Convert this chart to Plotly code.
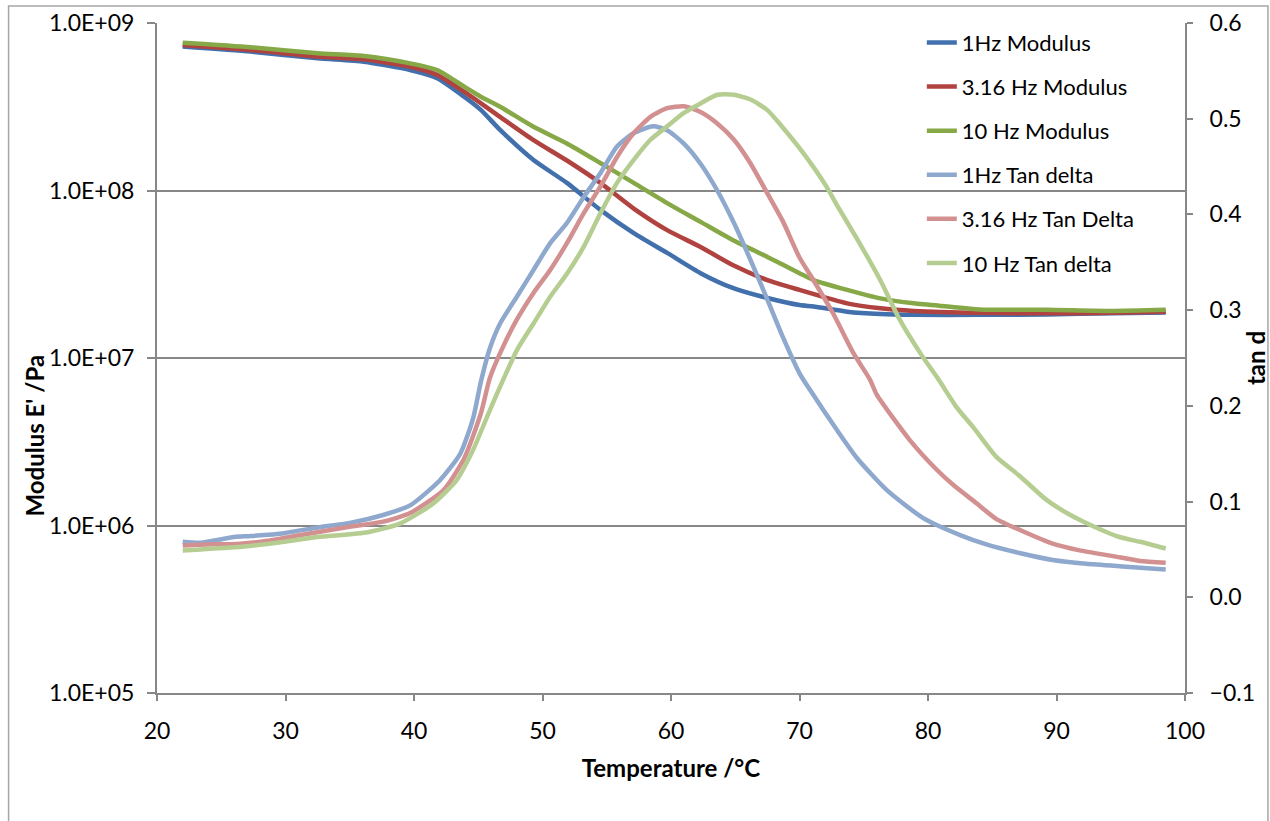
import plotly.graph_objects as go

# ---- Storage modulus E' (Pa) vs temperature (°C) ----
temp_mod_1hz = [22.0, 27.3, 32.5, 36.1, 39.7, 41.8, 43.9, 45.2, 46.7, 49.3, 51.9, 54.5, 57.1,
                59.7, 62.3, 64.8, 67.5, 70.0, 71.1, 73.7, 76.3, 78.9, 84.0, 89.2, 94.4, 98.5]
mod_1hz = [7.23e8, 6.75e8, 6.15e8, 5.87e8, 5.24e8, 4.68e8, 3.63e8, 3.03e8, 2.30e8, 1.52e8,
           1.11e8, 7.66e7, 5.57e7, 4.24e7, 3.21e7, 2.62e7, 2.28e7, 2.07e7, 2.03e7, 1.89e7,
           1.83e7, 1.81e7, 1.81e7, 1.82e7, 1.85e7, 1.87e7]

temp_mod_316hz = [22.0, 27.3, 32.5, 36.1, 39.7, 41.8, 43.9, 46.7, 49.3, 51.9, 54.5, 57.1, 59.7,
                  62.3, 64.8, 67.5, 70.0, 73.7, 76.3, 78.9, 84.0, 89.2, 94.4, 98.5]
mod_316hz = [7.40e8, 6.90e8, 6.30e8, 6.07e8, 5.48e8, 4.90e8, 3.89e8, 2.75e8, 2.00e8, 1.51e8,
             1.11e8, 7.80e7, 5.80e7, 4.60e7, 3.59e7, 2.92e7, 2.55e7, 2.12e7, 1.98e7, 1.91e7,
             1.86e7, 1.85e7, 1.86e7, 1.89e7]

temp_mod_10hz = [22.0, 27.3, 32.5, 36.1, 39.7, 41.8, 43.9, 45.2, 46.7, 49.3, 51.9, 54.5, 57.1,
                 59.7, 62.3, 64.8, 67.5, 70.0, 71.1, 73.7, 76.3, 78.9, 81.5, 84.0, 89.2, 94.4, 98.5]
mod_10hz = [7.62e8, 7.16e8, 6.59e8, 6.35e8, 5.74e8, 5.24e8, 4.17e8, 3.63e8, 3.16e8, 2.40e8,
            1.91e8, 1.46e8, 1.11e8, 8.41e7, 6.50e7, 5.06e7, 4.01e7, 3.21e7, 2.92e7, 2.55e7,
            2.27e7, 2.12e7, 2.03e7, 1.95e7, 1.94e7, 1.91e7, 1.94e7]

# ---- tan delta vs temperature ----
temp_tan_1hz = [22.0, 23.4, 26.0, 27.3, 29.9, 32.5, 35.1, 37.6, 39.7, 42.0, 43.6, 44.6, 45.2,
                45.9, 46.7, 48.0, 49.3, 50.6, 51.9, 53.2, 54.5, 55.8, 57.1, 58.6, 59.7, 61.0,
                62.3, 63.6, 64.9, 66.2, 67.5, 68.7, 70.0, 70.8, 72.9, 74.5, 76.8, 79.6, 82.5,
                84.6, 87.2, 89.7, 92.3, 95.4, 98.5]
tan_1hz = [0.058, 0.057, 0.063, 0.064, 0.067, 0.073, 0.078, 0.086, 0.096, 0.122, 0.150, 0.187,
           0.225, 0.260, 0.286, 0.314, 0.342, 0.370, 0.391, 0.418, 0.443, 0.471, 0.485, 0.492,
           0.488, 0.474, 0.453, 0.425, 0.391, 0.352, 0.311, 0.272, 0.234, 0.217, 0.175, 0.145,
           0.112, 0.083, 0.065, 0.055, 0.046, 0.039, 0.035, 0.032, 0.029]

temp_tan_316hz = [22.0, 23.4, 26.5, 28.6, 31.2, 35.1, 37.6, 39.7, 42.3, 43.9, 45.2, 45.9, 46.8,
                  48.0, 49.3, 50.6, 51.9, 53.2, 54.5, 55.8, 57.1, 58.4, 59.7, 61.0, 62.3, 63.6,
                  64.9, 66.2, 67.5, 68.7, 70.0, 71.1, 72.6, 74.2, 75.5, 76.0, 78.6, 80.7, 82.0,
                  83.8, 85.3, 87.2, 89.7, 91.8, 94.4, 96.5, 98.5]
tan_316hz = [0.054, 0.055, 0.056, 0.059, 0.065, 0.074, 0.079, 0.088, 0.112, 0.145, 0.192, 0.229,
             0.258, 0.290, 0.318, 0.342, 0.370, 0.401, 0.429, 0.460, 0.485, 0.502, 0.511, 0.513,
             0.507, 0.495, 0.478, 0.453, 0.422, 0.393, 0.355, 0.331, 0.297, 0.255, 0.227, 0.212,
             0.164, 0.133, 0.117, 0.098, 0.082, 0.070, 0.056, 0.049, 0.043, 0.038, 0.036]

temp_tan_10hz = [22.0, 23.4, 26.8, 29.9, 32.5, 36.4, 38.9, 41.5, 43.3, 44.6, 45.7, 46.7, 48.0,
                 49.3, 50.6, 51.9, 53.2, 54.5, 55.8, 57.1, 58.4, 59.7, 61.0, 62.3, 63.6, 64.9,
                 66.2, 67.5, 68.5, 70.3, 72.1, 72.9, 74.5, 76.3, 77.8, 79.5, 80.8, 82.2, 83.5,
                 85.3, 87.2, 89.2, 90.8, 92.1, 94.9, 96.5, 98.5]
tan_10hz = [0.049, 0.050, 0.053, 0.058, 0.063, 0.068, 0.077, 0.098, 0.122, 0.154, 0.189, 0.220,
            0.258, 0.286, 0.314, 0.338, 0.366, 0.401, 0.433, 0.457, 0.478, 0.492, 0.506, 0.516,
            0.525, 0.525, 0.520, 0.509, 0.494, 0.464, 0.429, 0.410, 0.374, 0.331, 0.290, 0.253,
            0.228, 0.199, 0.178, 0.147, 0.126, 0.102, 0.088, 0.079, 0.063, 0.058, 0.051]

mod_tickvals = [1e5, 1e6, 1e7, 1e8, 1e9]
mod_ticktext = ["1.0E+05", "1.0E+06", "1.0E+07", "1.0E+08", "1.0E+09"]
tan_tickvals = [-0.1, 0.0, 0.1, 0.2, 0.3, 0.4, 0.5, 0.6]
temp_tickvals = [20, 30, 40, 50, 60, 70, 80, 90, 100]

FONT = "Lato"
AXIS_GREY = "#878787"

fig = go.Figure()

modulus_series = [
    ("1Hz Modulus", temp_mod_1hz, mod_1hz, "#4170AC"),
    ("3.16 Hz Modulus", temp_mod_316hz, mod_316hz, "#B0423F"),
    ("10 Hz Modulus", temp_mod_10hz, mod_10hz, "#86A846"),
]
tan_series = [
    ("1Hz Tan delta", temp_tan_1hz, tan_1hz, "#8EA8CE"),
    ("3.16 Hz Tan Delta", temp_tan_316hz, tan_316hz, "#D29190"),
    ("10 Hz Tan delta", temp_tan_10hz, tan_10hz, "#B6CD92"),
]

for name, t, v, c in modulus_series:
    fig.add_trace(go.Scatter(x=t, y=v, name=name, mode="lines", legendgroup=name,
                             line=dict(color=c, width=4.5, shape="spline", smoothing=0.6),
                             yaxis="y"))
for name, t, v, c in tan_series:
    fig.add_trace(go.Scatter(x=t, y=v, name=name, mode="lines", legendgroup=name,
                             line=dict(color=c, width=4.5, shape="spline", smoothing=0.6),
                             yaxis="y2"))

tick_font = dict(family=FONT, size=23, color="#000000")
title_font = dict(family=FONT, size=24, color="#000000", weight="bold")

fig.update_layout(
    width=1270, height=821,
    margin=dict(l=156.5, r=85, t=23, b=128, autoexpand=False),
    paper_bgcolor="white", plot_bgcolor="white",
    font=dict(family=FONT, size=22, color="#000000"),
    xaxis=dict(
        range=[20, 100], tickvals=temp_tickvals, showgrid=False, zeroline=False,
        showline=True, linecolor=AXIS_GREY, linewidth=2,
        ticks="outside", ticklen=6, tickwidth=2, tickcolor=AXIS_GREY,
        tickfont=tick_font, ticklabelstandoff=10,
        title=dict(text="Temperature /°C", font=title_font, standoff=18),
    ),
    yaxis=dict(
        type="log", range=[5, 9], tickvals=mod_tickvals, ticktext=mod_ticktext,
        showgrid=True, gridcolor=AXIS_GREY, gridwidth=1.5, zeroline=False,
        showline=True, linecolor=AXIS_GREY, linewidth=2,
        ticks="outside", ticklen=8, tickwidth=2, tickcolor=AXIS_GREY,
        tickfont=tick_font, ticklabelstandoff=8,
    ),
    yaxis2=dict(
        overlaying="y", side="right", range=[-0.1, 0.6], tickvals=tan_tickvals,
        tickformat=".1f", showgrid=False, zeroline=False,
        showline=True, linecolor=AXIS_GREY, linewidth=2,
        ticks="outside", ticklen=6, tickwidth=2, tickcolor=AXIS_GREY,
        tickfont=tick_font, ticklabelstandoff=12,
        title=dict(text="tan d", font=title_font, standoff=14),
    ),
    legend=dict(
        x=0.744, y=1.002, xanchor="left", yanchor="top",
        bgcolor="rgba(0,0,0,0)", borderwidth=0,
        font=dict(family=FONT, size=22, color="#000000"),
        tracegroupgap=12.5, itemwidth=30,
    ),
    showlegend=True,
)

# Left axis title placed as an annotation so it sits lower than centre
fig.add_annotation(
    text="Modulus E' /Pa", xref="paper", yref="paper",
    x=(33 - 156.5) / 1028.5, y=(693 - 436) / 670,
    textangle=-90, showarrow=False, font=title_font,
    xanchor="center", yanchor="middle",
)

# Chart-area frame
fig.add_shape(
    type="rect", xref="paper", yref="paper",
    x0=(8 - 156.5) / 1028.5, x1=(1268 - 156.5) / 1028.5,
    y0=(693 - 840) / 670, y1=(693 - 6) / 670,
    line=dict(color="#A6A6A6", width=1.5), fillcolor="rgba(0,0,0,0)", layer="below",
)

fig.write_html("out.html")
